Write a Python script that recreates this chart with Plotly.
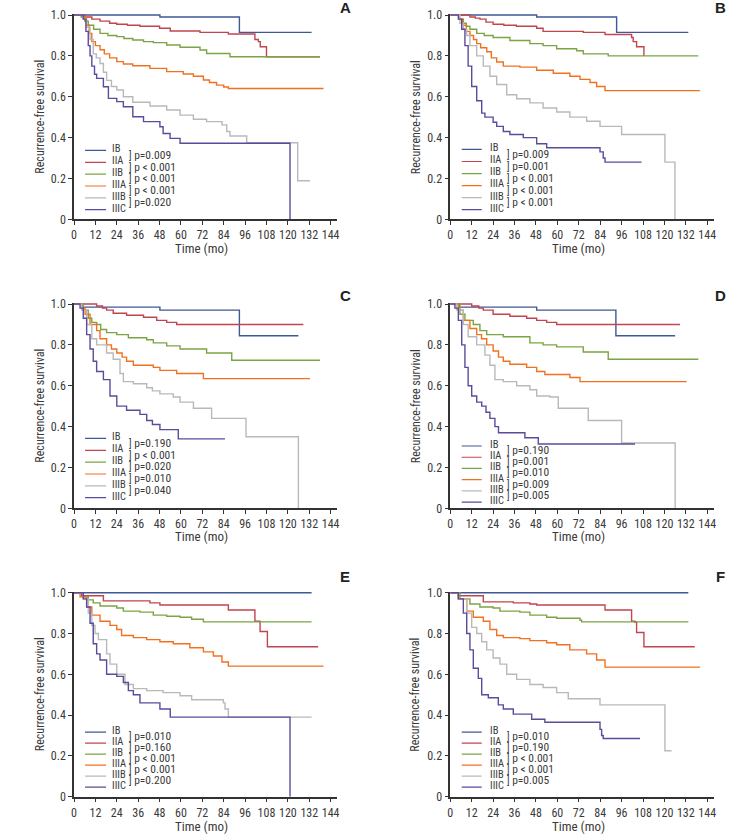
import plotly.graph_objects as go

STAGES = ["IB", "IIA", "IIB", "IIIA", "IIIB", "IIIC"]
COLORS = ["#3f5896", "#c2444e", "#7ba444", "#f2711f", "#b9b9b9", "#5d4a9c"]
X_TICKS = [0, 12, 24, 36, 48, 60, 72, 84, 96, 108, 120, 132, 144]
Y_TICKS = [0, 0.2, 0.4, 0.6, 0.8, 1.0]
Y_TICKTEXT = ["0", "0.2", "0.4", "0.6", "0.8", "1.0"]
PANELS = ["A", "B", "C", "D", "E", "F"]

# ---------------- Panel A ----------------
A_IB_t = [0, 48.2, 92.8, 133.3]
A_IB_s = [1.0, 0.99, 0.915, 0.915]
A_IIA_t = [0, 6, 10, 14.6, 20, 24, 30, 37, 48, 54, 70.7, 86.6, 101.5, 103.4, 104.5, 108, 138]
A_IIA_s = [1.0, 0.99, 0.98, 0.97, 0.96, 0.955, 0.95, 0.945, 0.935, 0.922, 0.915, 0.907, 0.88, 0.87, 0.845, 0.796, 0.796]
A_IIB_t = [0, 4, 6, 8, 11, 14.6, 19, 24, 28, 33, 39, 44.5, 52, 59.5, 70.7, 74.4, 87.5, 138]
A_IIB_s = [1.0, 0.99, 0.97, 0.95, 0.93, 0.91, 0.90, 0.894, 0.885, 0.878, 0.87, 0.865, 0.853, 0.842, 0.829, 0.812, 0.796, 0.796]
A_IIIA_t = [0, 5, 7, 8.5, 10, 12, 14.6, 17, 20, 24, 27.7, 33, 42.6, 52, 61.3, 67, 72.6, 76, 80, 84, 86.6, 140]
A_IIIA_s = [1.0, 0.99, 0.95, 0.91, 0.87, 0.85, 0.83, 0.81, 0.79, 0.772, 0.76, 0.752, 0.739, 0.723, 0.711, 0.70, 0.682, 0.67, 0.657, 0.648, 0.64, 0.64]
A_IIIB_t = [0, 5.2, 7, 9, 10.8, 12.5, 14.6, 16.5, 18.3, 21, 24, 27.7, 33, 42.6, 52, 59.5, 67, 74.4, 83, 85.7, 87.5, 96.9, 125.5, 132.4]
A_IIIB_s = [1.0, 0.98, 0.94, 0.88, 0.81, 0.79, 0.763, 0.72, 0.68, 0.65, 0.633, 0.60, 0.573, 0.555, 0.535, 0.51, 0.49, 0.478, 0.462, 0.43, 0.408, 0.375, 0.189, 0.189]
A_IIIC_t = [0, 5.2, 6.7, 8, 9, 10, 11.5, 12.7, 16.5, 19.3, 24, 27.7, 33, 39, 48.2, 50, 53.9, 59.5, 121.2]
A_IIIC_s = [1.0, 0.98, 0.92, 0.85, 0.80, 0.75, 0.71, 0.69, 0.649, 0.592, 0.576, 0.551, 0.502, 0.478, 0.453, 0.42, 0.396, 0.372, 0.0]
A_P = ["p=0.009", "p < 0.001", "p < 0.001", "p < 0.001", "p=0.020"]

# ---------------- Panel B ----------------
B_IB_t = [0, 48.4, 93.2, 133.4]
B_IB_s = [1.0, 0.99, 0.915, 0.915]
B_IIA_t = [0, 11, 14, 16.6, 20, 24, 30, 37, 48.4, 52, 74.5, 86.7, 101.6, 102.5, 104.4, 108.5]
B_IIA_s = [1.0, 0.99, 0.985, 0.98, 0.965, 0.955, 0.95, 0.945, 0.935, 0.92, 0.915, 0.905, 0.89, 0.87, 0.845, 0.80]
B_IIB_t = [0, 5, 7, 9, 11, 14.8, 19, 24, 33.4, 44.6, 52, 59.6, 70.8, 74.5, 88.5, 139]
B_IIB_s = [1.0, 0.98, 0.96, 0.945, 0.93, 0.91, 0.90, 0.89, 0.875, 0.86, 0.85, 0.835, 0.825, 0.81, 0.80, 0.80]
B_IIIA_t = [0, 5, 7.3, 9, 11, 13, 14.8, 17, 20.4, 23, 26, 29.7, 39, 48.4, 57.7, 67, 72.7, 78.3, 82, 86.7, 140]
B_IIIA_s = [1.0, 0.98, 0.95, 0.92, 0.90, 0.88, 0.86, 0.84, 0.82, 0.79, 0.77, 0.75, 0.745, 0.73, 0.715, 0.70, 0.685, 0.67, 0.65, 0.63, 0.63]
B_IIIB_t = [0, 5.4, 7.3, 9.2, 11, 14.8, 18.5, 22.2, 26, 31.6, 37.2, 44.6, 52, 59.6, 67, 76.4, 83.9, 96, 120.3, 125.9]
B_IIIB_s = [1.0, 0.96, 0.93, 0.90, 0.85, 0.80, 0.75, 0.70, 0.66, 0.61, 0.59, 0.57, 0.545, 0.525, 0.50, 0.48, 0.455, 0.415, 0.28, 0.0]
B_IIIC_t = [0, 4.5, 6.4, 8.2, 10, 12, 14.8, 17.6, 19.4, 24, 26, 29.7, 33.4, 40.9, 48.4, 54, 83.9, 85.7, 86.7, 107.2]
B_IIIC_s = [1.0, 0.98, 0.93, 0.85, 0.75, 0.65, 0.58, 0.52, 0.50, 0.475, 0.455, 0.43, 0.415, 0.40, 0.37, 0.35, 0.33, 0.30, 0.28, 0.28]
B_P = ["p=0.009", "p=0.001", "p < 0.001", "p < 0.001", "p < 0.001"]

# ---------------- Panel C ----------------
C_IB_t = [0, 5, 48.2, 92.8, 125.9]
C_IB_s = [1.0, 0.985, 0.97, 0.845, 0.845]
C_IIA_t = [0, 12.7, 16, 18.3, 22, 29.5, 39, 46.4, 52, 57.6, 128.7]
C_IIA_s = [1.0, 0.99, 0.98, 0.97, 0.955, 0.945, 0.935, 0.92, 0.91, 0.90, 0.90]
C_IIB_t = [0, 5.2, 8, 10, 12.7, 15, 18.3, 24, 30.5, 40.8, 44.5, 52, 59.5, 74.4, 88.5, 138]
C_IIB_s = [1.0, 0.97, 0.93, 0.91, 0.90, 0.875, 0.86, 0.85, 0.835, 0.825, 0.81, 0.795, 0.78, 0.76, 0.725, 0.725]
C_IIIA_t = [0, 4.3, 6.2, 9, 12.7, 14.6, 18.3, 21, 24, 27, 29.5, 33.3, 44.5, 48.2, 57.6, 72.6, 132.4]
C_IIIA_s = [1.0, 0.98, 0.95, 0.90, 0.87, 0.83, 0.80, 0.78, 0.76, 0.74, 0.72, 0.70, 0.69, 0.675, 0.66, 0.635, 0.635]
C_IIIB_t = [0, 4.3, 7.1, 10, 12.7, 18.3, 22, 25.8, 27.7, 33.3, 40.8, 44, 48.2, 55.7, 59.5, 67, 77.2, 96.5, 125.9]
C_IIIB_s = [1.0, 0.97, 0.90, 0.83, 0.80, 0.76, 0.73, 0.66, 0.62, 0.61, 0.59, 0.575, 0.56, 0.545, 0.52, 0.49, 0.44, 0.35, 0.0]
C_IIIC_t = [0, 3.4, 5.2, 7.1, 9, 10.8, 12.7, 16.5, 20.2, 24, 29.5, 37, 40.8, 44, 48.2, 58.5, 84.7]
C_IIIC_s = [1.0, 0.98, 0.93, 0.85, 0.78, 0.72, 0.67, 0.63, 0.55, 0.50, 0.48, 0.46, 0.43, 0.41, 0.385, 0.34, 0.34]
C_P = ["p=0.190", "p < 0.001", "p=0.020", "p=0.010", "p=0.040"]

# ---------------- Panel D ----------------
D_IB_t = [0, 5, 48.4, 92.8, 126]
D_IB_s = [1.0, 0.985, 0.97, 0.845, 0.845]
D_IIA_t = [0, 12, 16, 18.5, 24, 33.4, 42.8, 48.4, 54, 59.6, 128.7]
D_IIA_s = [1.0, 0.99, 0.98, 0.97, 0.95, 0.94, 0.93, 0.92, 0.91, 0.90, 0.90]
D_IIB_t = [0, 5.4, 8.2, 12.9, 16.6, 20.4, 29.7, 44.6, 52, 59.6, 74.5, 88.5, 139]
D_IIB_s = [1.0, 0.95, 0.92, 0.90, 0.87, 0.85, 0.84, 0.81, 0.80, 0.79, 0.765, 0.73, 0.73]
D_IIIA_t = [0, 4.5, 7.3, 11, 14.8, 17.5, 20.4, 24, 27, 29.7, 33.4, 42.8, 48.4, 53, 67, 72.7, 132.4]
D_IIIA_s = [1.0, 0.97, 0.92, 0.88, 0.85, 0.83, 0.80, 0.77, 0.74, 0.72, 0.705, 0.69, 0.67, 0.655, 0.64, 0.62, 0.62]
D_IIIB_t = [0, 3.5, 7.3, 10, 14.8, 19.4, 22.2, 25, 29.7, 37.2, 44.6, 48.4, 55.8, 60.5, 77.3, 96, 126]
D_IIIB_s = [1.0, 0.97, 0.90, 0.84, 0.80, 0.75, 0.70, 0.63, 0.62, 0.60, 0.58, 0.55, 0.545, 0.49, 0.43, 0.32, 0.0]
D_IIIC_t = [0, 2.6, 4.5, 6.4, 8.2, 10, 12, 14.8, 17.6, 20, 22.2, 25, 27, 41.8, 49.3, 103.5]
D_IIIC_s = [1.0, 0.98, 0.92, 0.80, 0.69, 0.60, 0.55, 0.52, 0.50, 0.47, 0.44, 0.40, 0.37, 0.345, 0.315, 0.315]
D_P = ["p=0.190", "p=0.001", "p=0.010", "p=0.009", "p=0.005"]

# ---------------- Panel E ----------------
E_IB_t = [0, 133.3]
E_IB_s = [1.0, 1.0]
E_IIA_t = [0, 4.3, 16.5, 42.6, 48.2, 86.6, 101.5, 104.4, 108.5, 137]
E_IIA_s = [1.0, 0.985, 0.96, 0.95, 0.94, 0.915, 0.86, 0.81, 0.735, 0.735]
E_IIB_t = [0, 5.2, 8, 10.8, 14.6, 24, 27.7, 37, 44.5, 52, 59.5, 66, 72.6, 133.3]
E_IIB_s = [1.0, 0.98, 0.965, 0.95, 0.935, 0.925, 0.91, 0.905, 0.89, 0.885, 0.88, 0.87, 0.857, 0.857]
E_IIIA_t = [0, 3.4, 7.1, 10, 14.6, 20.2, 24, 26.7, 33.3, 40.8, 48.2, 55.7, 65, 72.6, 78.2, 83, 86.6, 140]
E_IIIA_s = [1.0, 0.98, 0.93, 0.89, 0.86, 0.84, 0.82, 0.79, 0.78, 0.77, 0.76, 0.75, 0.73, 0.71, 0.69, 0.66, 0.64, 0.64]
E_IIIB_t = [0, 5.2, 8, 10, 11.8, 13.7, 18.3, 20.2, 24, 28.6, 33.3, 40.8, 50, 59.5, 66, 83.8, 84.7, 86.6, 133.3]
E_IIIB_s = [1.0, 0.97, 0.90, 0.84, 0.80, 0.77, 0.70, 0.65, 0.60, 0.55, 0.53, 0.52, 0.51, 0.495, 0.475, 0.46, 0.43, 0.39, 0.39]
E_IIIC_t = [0, 5.2, 7.1, 9, 10.8, 12.7, 14.6, 18.3, 24, 27.7, 30.5, 33.3, 37, 48.2, 54, 121.2]
E_IIIC_s = [1.0, 0.97, 0.93, 0.85, 0.75, 0.70, 0.67, 0.60, 0.59, 0.56, 0.52, 0.50, 0.46, 0.43, 0.39, 0.0]
E_P = ["p=0.010", "p=0.160", "p < 0.001", "p < 0.001", "p=0.200"]

# ---------------- Panel F ----------------
F_IB_t = [0, 133.4]
F_IB_s = [1.0, 1.0]
F_IIA_t = [0, 4.5, 18.5, 35.3, 44.6, 48.4, 86.7, 101.6, 103.5, 104.4, 108.5, 137]
F_IIA_s = [1.0, 0.985, 0.955, 0.95, 0.945, 0.94, 0.915, 0.86, 0.855, 0.805, 0.735, 0.735]
F_IIB_t = [0, 5.4, 11, 16.6, 24, 27.8, 39, 44.6, 54, 59.6, 72.7, 73.6, 133.4]
F_IIB_s = [1.0, 0.97, 0.945, 0.93, 0.925, 0.91, 0.905, 0.89, 0.88, 0.875, 0.865, 0.857, 0.857]
F_IIIA_t = [0, 4.5, 9.2, 12.9, 18.5, 22.2, 26, 29.7, 39, 44.6, 54, 59.6, 67, 76.4, 82, 86.7, 140]
F_IIIA_s = [1.0, 0.97, 0.91, 0.88, 0.86, 0.82, 0.79, 0.78, 0.775, 0.765, 0.755, 0.745, 0.72, 0.70, 0.67, 0.635, 0.635]
F_IIIB_t = [0, 4.5, 9.2, 12, 14.8, 17.6, 20.4, 24, 27.8, 31.6, 37.2, 44.6, 52, 59.6, 66.1, 83.9, 120.3, 124]
F_IIIB_s = [1.0, 0.97, 0.90, 0.83, 0.80, 0.76, 0.72, 0.68, 0.65, 0.60, 0.575, 0.55, 0.535, 0.51, 0.48, 0.45, 0.225, 0.225]
F_IIIC_t = [0, 4.5, 7.3, 9.2, 11, 12.9, 15.7, 17.6, 21.3, 26.9, 29.7, 35.3, 45.6, 53, 83.9, 84.8, 85.7, 106.3]
F_IIIC_s = [1.0, 0.97, 0.90, 0.80, 0.72, 0.63, 0.58, 0.50, 0.485, 0.45, 0.43, 0.405, 0.38, 0.365, 0.33, 0.30, 0.285, 0.285]
F_P = ["p=0.010", "p=0.190", "p < 0.001", "p < 0.001", "p=0.005"]

# ------------- assemble -------------
G = globals()
W, H = 745, 835
FONT = "Liberation Sans Narrow, Roboto Condensed, Arial Narrow, Liberation Sans, sans-serif"
TXT = "#3a3a3a"
AX = "#333333"


def fx(px):
    return px / W


def fy(py):
    return 1 - py / H


XL = (fx(74), fx(336.9))
XR = (fx(450.3), fx(713.5))
ROWS = [(fy(219.3), fy(14)), (fy(508.3), fy(303)), (fy(796.7), fy(591.7))]
LEG = {"A": (0.345, 0.058), "B": (0.350, 0.059), "C": (0.350, 0.058),
       "D": (0.313, 0.055), "E": (0.325, 0.054), "F": (0.325, 0.054)}

fig = go.Figure()
layout = dict(width=W, height=H, margin=dict(l=0, r=0, t=0, b=0, autoexpand=False),
              paper_bgcolor="white", plot_bgcolor="white", showlegend=False,
              font=dict(family=FONT, color=TXT))
shapes, annos = [], []

for i, p in enumerate(PANELS):
    n = "" if i == 0 else str(i + 1)
    xd = XL if i % 2 == 0 else XR
    yd = ROWS[i // 2]
    layout["xaxis" + n] = dict(domain=list(xd), range=[0, 147.5], anchor="y" + n,
                               automargin=False,
                               tickvals=X_TICKS, ticks="outside", ticklen=4, tickwidth=1.2,
                               tickcolor=AX, showline=True, linecolor=AX, linewidth=1.5,
                               showgrid=False, zeroline=False,
                               tickfont=dict(size=12, family=FONT, color=TXT))
    layout["yaxis" + n] = dict(domain=list(yd), range=[0, 1.005], anchor="x" + n,
                               automargin=False,
                               tickvals=Y_TICKS, ticktext=Y_TICKTEXT, ticks="outside",
                               ticklen=4, tickwidth=1.2, tickcolor=AX, showline=True,
                               linecolor=AX, linewidth=1.5, showgrid=False, zeroline=False,
                               tickfont=dict(size=12, family=FONT, color=TXT))
    xr, yr = "x" + n, "y" + n
    for k, st in enumerate(STAGES):
        fig.add_trace(go.Scatter(x=G[f"{p}_{st}_t"], y=G[f"{p}_{st}_s"], mode="lines",
                                 line=dict(color=COLORS[k], width=1.4, shape="hv"),
                                 xaxis=xr, yaxis=yr, name=st, hoverinfo="skip"))
    y0, dy = LEG[p]
    lx0, lx1, tx, px = (6.2, 18.0, 20.3, 30.0) if i % 2 == 0 else (6.4, 17.6, 21.0, 30.5)
    for k, st in enumerate(STAGES):
        yy = y0 - k * dy
        shapes.append(dict(type="line", xref=xr, yref=yr, x0=lx0, x1=lx1, y0=yy - 0.008,
                           y1=yy - 0.008, line=dict(color=COLORS[k], width=1.2)))
        annos.append(dict(xref=xr, yref=yr, x=tx, y=yy, text=st, showarrow=False,
                          xanchor="left", yanchor="middle",
                          font=dict(size=10.5, family=FONT, color=TXT)))
    for k, pv in enumerate(G[f"{p}_P"]):
        yy = y0 - (k + 0.5) * dy
        annos.append(dict(xref=xr, yref=yr, x=px, y=yy,
                          text="<span style='font-size:10px'>]</span> " + pv, showarrow=False,
                          xanchor="left", yanchor="middle",
                          font=dict(size=11.5, family=FONT, color=TXT)))
    # panel letter
    lx = fx(345) if i % 2 == 0 else fx(720.5)
    ly = [7.5, 295, 576][i // 2]
    annos.append(dict(xref="paper", yref="paper", x=lx, y=fy(ly), text=f"<b>{p}</b>",
                      showarrow=False, xanchor="center", yanchor="middle",
                      font=dict(size=15, family="Liberation Sans, Arial, sans-serif", color="#222")))
    # axis titles
    cx = (xd[0] + xd[1]) / 2
    tyy = [248, 536.7, 826.5][i // 2]
    annos.append(dict(xref="paper", yref="paper", x=cx - 0.005, y=fy(tyy), text="Time (mo)",
                      showarrow=False, xanchor="center", yanchor="middle",
                      font=dict(size=13, family=FONT, color=TXT)))
    ytx = fx(40) if i % 2 == 0 else fx(415.5)
    annos.append(dict(xref="paper", yref="paper", x=ytx, y=(yd[0] + yd[1]) / 2,
                      text="Recurrence-free survival", textangle=-90, showarrow=False,
                      xanchor="center", yanchor="middle",
                      font=dict(size=12, family=FONT, color=TXT)))

layout["shapes"] = shapes
layout["annotations"] = annos
fig.update_layout(**layout)
fig.write_html("out.html", config={"displayModeBar": False},
               post_script="document.body.style.margin='0';")
